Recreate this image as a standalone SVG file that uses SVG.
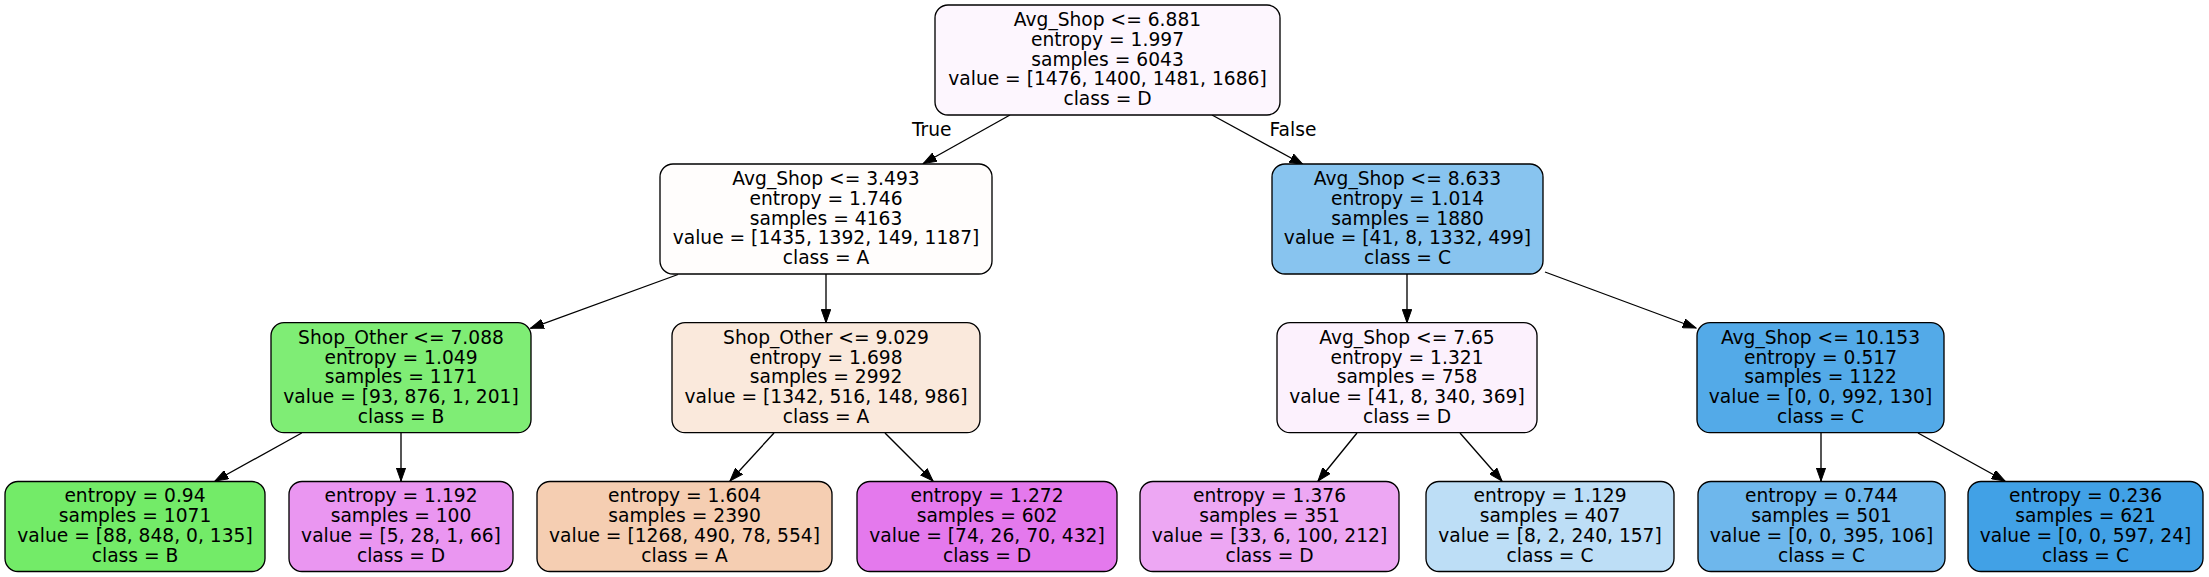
<svg xmlns="http://www.w3.org/2000/svg" width="2209" height="577" viewBox="0 0 2209 577">
<style>
.box{stroke:#000;stroke-width:1.33}
text{font-family:"DejaVu Sans","Liberation Sans",sans-serif;font-size:18.67px;fill:#000;text-anchor:middle}
.edge{stroke:#000;stroke-width:1.33;fill:none;marker-end:url(#arr)}
</style>
<defs>
<marker id="arr" markerUnits="userSpaceOnUse" viewBox="0 -5 14 10" markerWidth="14" markerHeight="10" refX="13.3" refY="0" orient="auto">
<path d="M0,-4.7 L13.3,0 L0,4.7 z" fill="#000" stroke="#000" stroke-width="1"/>
</marker>
</defs>
<rect width="2209" height="577" fill="#fff"/>
<g id="connectors">
<line class="edge" x1="1010" y1="115" x2="923.3" y2="163.5"/>
<line class="edge" x1="1212" y1="115" x2="1303" y2="164.5"/>
<line class="edge" x1="678" y1="274.5" x2="530.5" y2="328.3"/>
<line class="edge" x1="826" y1="274" x2="826" y2="322.7"/>
<line class="edge" x1="1407" y1="274" x2="1407" y2="322.7"/>
<line class="edge" x1="1545" y1="272" x2="1696" y2="328"/>
<line class="edge" x1="301.7" y1="433" x2="215" y2="481"/>
<line class="edge" x1="401" y1="433" x2="401" y2="481"/>
<line class="edge" x1="774" y1="433" x2="730" y2="481"/>
<line class="edge" x1="885" y1="433" x2="933" y2="481"/>
<line class="edge" x1="1357" y1="433" x2="1318" y2="481"/>
<line class="edge" x1="1460" y1="433" x2="1502" y2="481"/>
<line class="edge" x1="1821" y1="433" x2="1821" y2="481"/>
<line class="edge" x1="1918" y1="433" x2="2005" y2="481"/>
<text x="931.7" y="136">True</text>
<text x="1293" y="136">False</text>
</g>
<g id="node0">
<rect class="box" x="935" y="5" width="345" height="110" rx="13" fill="#fdf6fe"/>
<text x="1107.5" y="26">Avg_Shop &lt;= 6.881</text>
<text x="1107.5" y="45.8">entropy = 1.997</text>
<text x="1107.5" y="65.6">samples = 6043</text>
<text x="1107.5" y="85.4">value = [1476, 1400, 1481, 1686]</text>
<text x="1107.5" y="105.2">class = D</text>
</g>
<g id="node1">
<rect class="box" x="660" y="164" width="332" height="110" rx="13" fill="#fffdfc"/>
<text x="826" y="185">Avg_Shop &lt;= 3.493</text>
<text x="826" y="204.8">entropy = 1.746</text>
<text x="826" y="224.6">samples = 4163</text>
<text x="826" y="244.4">value = [1435, 1392, 149, 1187]</text>
<text x="826" y="264.2">class = A</text>
</g>
<g id="node2">
<rect class="box" x="271" y="322.7" width="260" height="110" rx="13" fill="#7fed75"/>
<text x="401" y="343.7">Shop_Other &lt;= 7.088</text>
<text x="401" y="363.5">entropy = 1.049</text>
<text x="401" y="383.3">samples = 1171</text>
<text x="401" y="403.1">value = [93, 876, 1, 201]</text>
<text x="401" y="422.9">class = B</text>
</g>
<g id="node3">
<rect class="box" x="5" y="481.5" width="260" height="90" rx="13" fill="#73eb68"/>
<text x="135" y="502.2">entropy = 0.94</text>
<text x="135" y="522">samples = 1071</text>
<text x="135" y="541.8">value = [88, 848, 0, 135]</text>
<text x="135" y="561.6">class = B</text>
</g>
<g id="node4">
<rect class="box" x="289" y="481.5" width="224" height="90" rx="13" fill="#ea96f1"/>
<text x="401" y="502.2">entropy = 1.192</text>
<text x="401" y="522">samples = 100</text>
<text x="401" y="541.8">value = [5, 28, 1, 66]</text>
<text x="401" y="561.6">class = D</text>
</g>
<g id="node5">
<rect class="box" x="672" y="322.7" width="308" height="110" rx="13" fill="#fae9dc"/>
<text x="826" y="343.7">Shop_Other &lt;= 9.029</text>
<text x="826" y="363.5">entropy = 1.698</text>
<text x="826" y="383.3">samples = 2992</text>
<text x="826" y="403.1">value = [1342, 516, 148, 986]</text>
<text x="826" y="422.9">class = A</text>
</g>
<g id="node6">
<rect class="box" x="537" y="481.5" width="295" height="90" rx="13" fill="#f5ceb2"/>
<text x="684.5" y="502.2">entropy = 1.604</text>
<text x="684.5" y="522">samples = 2390</text>
<text x="684.5" y="541.8">value = [1268, 490, 78, 554]</text>
<text x="684.5" y="561.6">class = A</text>
</g>
<g id="node7">
<rect class="box" x="857" y="481.5" width="260" height="90" rx="13" fill="#e479ed"/>
<text x="987" y="502.2">entropy = 1.272</text>
<text x="987" y="522">samples = 602</text>
<text x="987" y="541.8">value = [74, 26, 70, 432]</text>
<text x="987" y="561.6">class = D</text>
</g>
<g id="node8">
<rect class="box" x="1272" y="164" width="271" height="110" rx="13" fill="#88c4ef"/>
<text x="1407.5" y="185">Avg_Shop &lt;= 8.633</text>
<text x="1407.5" y="204.8">entropy = 1.014</text>
<text x="1407.5" y="224.6">samples = 1880</text>
<text x="1407.5" y="244.4">value = [41, 8, 1332, 499]</text>
<text x="1407.5" y="264.2">class = C</text>
</g>
<g id="node9">
<rect class="box" x="1277" y="322.7" width="260" height="110" rx="13" fill="#fcf1fd"/>
<text x="1407" y="343.7">Avg_Shop &lt;= 7.65</text>
<text x="1407" y="363.5">entropy = 1.321</text>
<text x="1407" y="383.3">samples = 758</text>
<text x="1407" y="403.1">value = [41, 8, 340, 369]</text>
<text x="1407" y="422.9">class = D</text>
</g>
<g id="node10">
<rect class="box" x="1140" y="481.5" width="259" height="90" rx="13" fill="#eda7f3"/>
<text x="1269.5" y="502.2">entropy = 1.376</text>
<text x="1269.5" y="522">samples = 351</text>
<text x="1269.5" y="541.8">value = [33, 6, 100, 212]</text>
<text x="1269.5" y="561.6">class = D</text>
</g>
<g id="node11">
<rect class="box" x="1426" y="481.5" width="248" height="90" rx="13" fill="#bddef6"/>
<text x="1550" y="502.2">entropy = 1.129</text>
<text x="1550" y="522">samples = 407</text>
<text x="1550" y="541.8">value = [8, 2, 240, 157]</text>
<text x="1550" y="561.6">class = C</text>
</g>
<g id="node12">
<rect class="box" x="1697" y="322.7" width="247" height="110" rx="13" fill="#53aae8"/>
<text x="1820.5" y="343.7">Avg_Shop &lt;= 10.153</text>
<text x="1820.5" y="363.5">entropy = 0.517</text>
<text x="1820.5" y="383.3">samples = 1122</text>
<text x="1820.5" y="403.1">value = [0, 0, 992, 130]</text>
<text x="1820.5" y="422.9">class = C</text>
</g>
<g id="node13">
<rect class="box" x="1698" y="481.5" width="247" height="90" rx="13" fill="#6eb7ec"/>
<text x="1821.5" y="502.2">entropy = 0.744</text>
<text x="1821.5" y="522">samples = 501</text>
<text x="1821.5" y="541.8">value = [0, 0, 395, 106]</text>
<text x="1821.5" y="561.6">class = C</text>
</g>
<g id="node14">
<rect class="box" x="1968" y="481.5" width="235" height="90" rx="13" fill="#41a1e6"/>
<text x="2085.5" y="502.2">entropy = 0.236</text>
<text x="2085.5" y="522">samples = 621</text>
<text x="2085.5" y="541.8">value = [0, 0, 597, 24]</text>
<text x="2085.5" y="561.6">class = C</text>
</g>
</svg>
